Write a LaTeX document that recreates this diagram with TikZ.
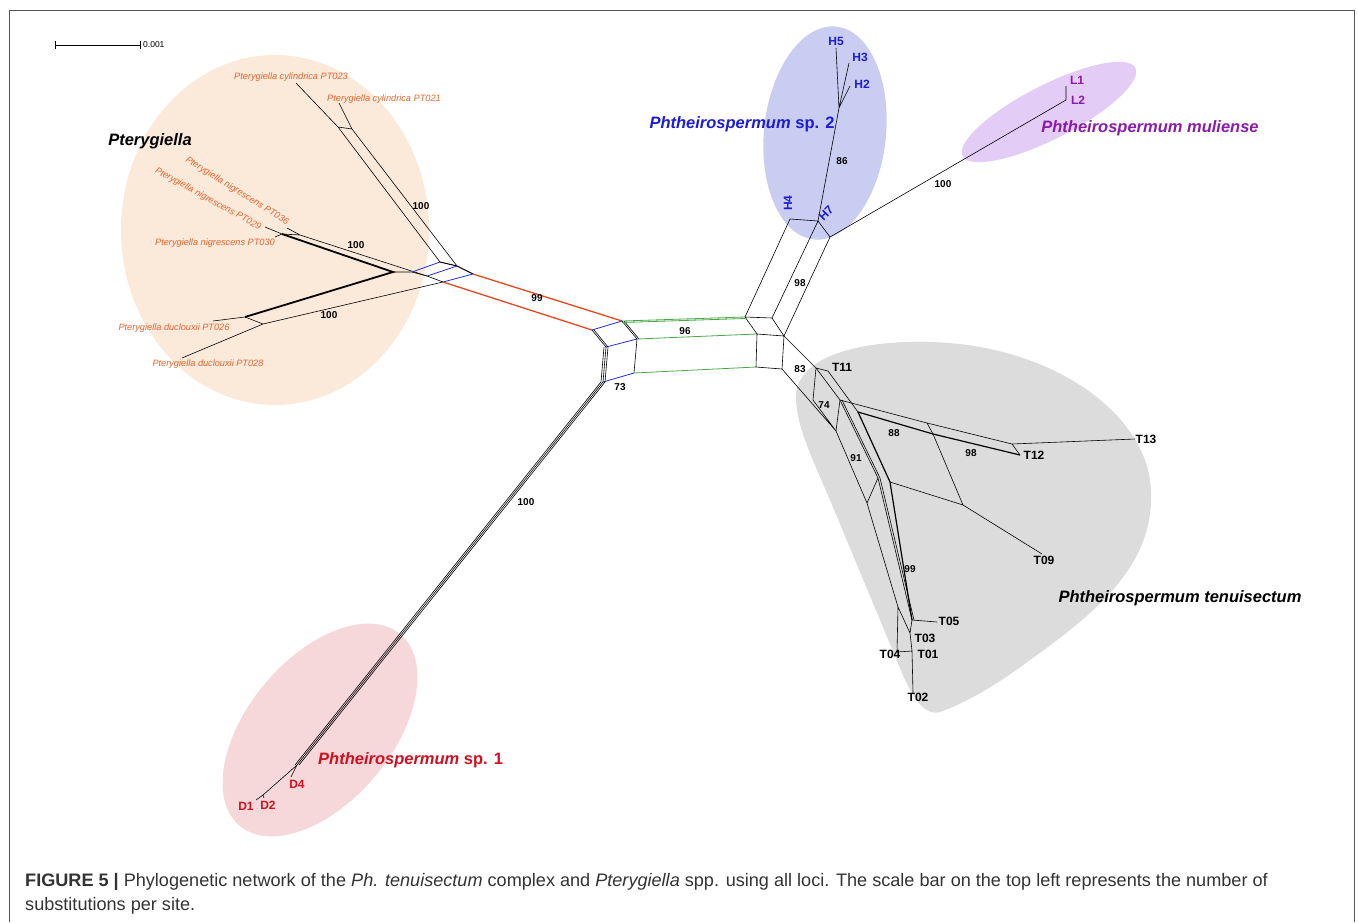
\documentclass[tikz,border=0pt]{standalone}
\usepackage{fontspec}
\setmainfont{Liberation Sans}
\definecolor{framegray}{HTML}{555555}
\definecolor{capgray}{HTML}{333333}
\definecolor{ptorange}{HTML}{E8642C}
\definecolor{peach}{HTML}{FBE9DA}
\definecolor{hblue}{HTML}{1C1CD6}
\definecolor{hfill}{HTML}{C9CDF2}
\definecolor{lpurple}{HTML}{8A1BAA}
\definecolor{lfill}{HTML}{E3CDF6}
\definecolor{dred}{HTML}{D0101E}
\definecolor{dfill}{HTML}{F6D8DA}
\definecolor{tgray}{HTML}{DCDCDC}
\definecolor{redge}{HTML}{E8461C}
\definecolor{bedge}{HTML}{2030E0}
\definecolor{gedge}{HTML}{4DA84A}
\tikzset{
  net/.style={line width=0.6pt},
  heavy/.style={line width=1.8pt},
  supp/.style={font=\bfseries\fontsize{10}{10}\selectfont, inner sep=1pt},
  tip/.style={font=\bfseries\fontsize{12}{12}\selectfont, inner sep=1pt},
  ptx/.style={font=\itshape\fontsize{9.2}{10}\selectfont, text=ptorange, inner sep=1pt},
  clade/.style={font=\bfseries\itshape\fontsize{16.5}{16.5}\selectfont, inner sep=1pt},
}

\begin{document}
\begin{tikzpicture}[x=1pt,y=-1pt]
  \useasboundingbox (0,0) rectangle (1358,922);
  \draw[framegray, line width=1pt] (9,922) -- (9,10) -- (1354,10) -- (1354,922);
  % clade shading
  \fill[peach] (275,230) ellipse [x radius=154pt, y radius=175pt];
  \fill[hfill, rotate around={-6:(825,133)}] (825,133) ellipse [x radius=61pt, y radius=107pt];
  \fill[lfill, rotate around={27:(1049,112)}] (1049,112) ellipse [x radius=97pt, y radius=27pt];
  \fill[dfill, rotate around={50:(320,730)}] (320,730) ellipse [x radius=125pt, y radius=72pt];
  \fill[tgray] (796,395) .. controls (798,360) and (850,340) .. (930,342)
    .. controls (1050,345) and (1140,410) .. (1150,480)
    .. controls (1160,560) and (1100,610) .. (1030,660)
    .. controls (990,690) and (960,705) .. (940,712)
    .. controls (925,716) and (915,700) .. (905,680) -- (830,500)
    .. controls (808,450) and (795,420) .. (796,395) -- cycle;
  % scale bar
  \coordinate (sb1) at (55,45);
  \coordinate (sb2) at (140,45);
  \draw[net] (sb1) -- (sb2) ([yshift=-4pt]sb1) -- ([yshift=4pt]sb1) ([yshift=-4pt]sb2) -- ([yshift=4pt]sb2);
  \node[anchor=west, font=\fontsize{8.5}{8.5}\selectfont, inner sep=1pt] (sbl) at ([xshift=2pt]sb2) {0.001};
  % vertices
  \foreach \n/\p in {p23/{296,83}, p23a/{338,127}, p21/{339,103}, p21a/{352,129},
      p36/{287,228}, p29/{265,227}, p30/{275,237}, pn1/{282,234}, pn2/{300,235}, pj/{393,272},
      p26/{213,321}, p26a/{245,317}, p28/{182,358}, p28a/{263,324},
      hb1/{412,272}, hb2/{440,262}, hb3/{427,276}, hb4/{457,266}, hb5/{443,282}, hb6/{473,274},
      c1/{622,321}, c2/{592,330}, c3/{637,339}, c4/{606,347}, c5/{634,373}, c6/{603,382},
      r1/{745,317}, r2/{772,318}, r3/{757,334}, r4/{784,336}, r5/{756,367}, r6/{782,369},
      h4/{790,219}, h7/{818,221}, hl/{830,237}, hm/{839,108},
      h5/{836,48}, h3/{849,63}, h2/{850,86}, l2/{1066,100}, l1/{1066,86},
      t11a/{816,368}, t11b/{828,371}, ta/{813,400}, tb/{840,400}, tc/{836,431}, td/{858,412},
      ti/{927,423}, tj/{933,434}, tg/{1012,444}, th/{1020,455}, t13/{1135,439},
      tk/{963,505}, t09/{1042,554}, te/{878,478}, tl/{890,482}, tf/{867,503},
      tm/{912,620}, t05/{937,622}, tn/{898,607}, to/{910,633}, t01/{912,651}, t04/{897,652}, t02/{913,693},
      d0/{297,765}, d4/{291,777}, d12/{263,795}, d1/{256,800}, d2/{264,798}}
    \coordinate (\n) at (\p);
  % Pterygiella
  \draw[net] (p23) -- (p23a) -- (hb2) (p21) -- (p21a) -- (hb4) (p23a) -- (p21a);
  \draw[net] (p36) -- (pn2) -- (hb3) (p29) -- (pn1) (p30) -- (pn1) (pn1) -- (pn2);
  \draw[heavy] (pn1) -- (pj) -- (p26a);
  \draw[net] (p26) -- (p26a) -- (p28a) -- (p28) (p28a) -- (hb5);
  \draw[net] (pj) -- (hb1) -- (hb3) -- (hb5);
  \draw[line width=1pt] (hb2) -- (hb4) -- (hb6);
  \draw[bedge, line width=0.8pt] (hb1) -- (hb2) (hb3) -- (hb4) (hb5) -- (hb6);
  \draw[redge, line width=1.3pt] (hb6) -- (c1) (hb5) -- (c2);
  % centre
  \draw[bedge, line width=0.8pt] (c2) -- (c1) (c4) -- (c3) (c6) -- (c5);
  \foreach \s in {0,2}
    \draw[net] ([xshift=\s pt]c1) -- ([xshift=\s pt]c3) ([xshift=\s pt]c2) -- ([xshift=\s pt]c4);
  \foreach \s in {-2,0,2}
    \draw[net] ([xshift=\s pt]c4) -- ([xshift=\s pt]c6) ([xshift=\s pt]c6) -- ([xshift=\s pt]d0);
  \draw[net] (c3) -- (c5);
  \draw[gedge, line width=0.8pt] (c1) -- (r1) ([yshift=-1.5pt]c1) -- ([yshift=-1.5pt]r1) (c3) -- (r3) (c5) -- (r5);
  \draw[net] (r1) -- (r2) -- (r4) -- (r6) -- (r5) -- (r3) -- (r4) (r1) -- (r3);
  \draw[net] (r1) -- (h4) -- (h7) -- (hl) -- (r4) (r2) -- (h7);
  \draw[net] (hl) -- (l2) -- (l1);
  \draw[net] (h7) -- (hm) -- (h5) (hm) -- (h3) (hm) -- (h2);
  % Ph. tenuisectum
  \draw[net] (r4) -- (t11a) -- (t11b) (r6) -- (tc) (t11a) -- (ta) -- (tc);
  \draw[net] (t11a) -- (tb) (t11b) -- (td) (tb) -- (tc);
  \draw[net] (tb) -- (ti) -- (tg) -- (t13) (tg) -- (th);
  \draw[line width=1.2pt] (td) -- (tj) -- (th);
  \draw[net] (ti) -- (tj) -- (tk) -- (t09) (tl) -- (tk);
  \foreach \s in {0,2}
    \draw[net] ([xshift=\s pt]tb) -- ([xshift=\s pt]te) ([xshift=\s pt]te) -- ([xshift=\s pt]tm);
  \draw[line width=1.2pt] (td) -- (tl) -- (tm);
  \draw[net] (te) -- (tf) (tc) -- (tf) -- (tn);
  \draw[net] (tm) -- (t05) (tn) -- (t04) (tn) -- (to) (tm) -- (to) -- (t01) -- (t02) (t04) -- (t01);
  % Phtheirospermum sp. 1
  \draw[net] (d0) -- (d4) (d0) -- (d12) -- (d1) (d12) -- (d2);
  % taxa
  \node[ptx] (n23) at (291,77) {Pterygiella cylindrica PT023};
  \node[ptx] (n21) at (384,99) {Pterygiella cylindrica PT021};
  \node[ptx, rotate=-32] (n36) at (237,191) {Pterygiella nigrescens PT036};
  \node[ptx, rotate=-29] (n29) at (208,199) {Pterygiella nigrescens PT029};
  \node[ptx] (n30) at (215,243) {Pterygiella nigrescens PT030};
  \node[ptx] (n26) at (174,328) {Pterygiella duclouxii PT026};
  \node[ptx] (n28) at (208,364) {Pterygiella duclouxii PT028};
  \foreach \n/\p/\t in {nh5/{836,41}/H5, nh3/{860,57}/H3, nh2/{862,84}/H2}
    \node[tip, text=hblue] (\n) at (\p) {\t};
  \node[tip, text=hblue, rotate=90] (nh4) at (788,203) {H4};
  \node[tip, text=hblue, rotate=45] (nh7) at (826,213) {H7};
  \node[tip, text=lpurple] (nl1) at (1077,80) {L1};
  \node[tip, text=lpurple] (nl2) at (1078,100) {L2};
  \foreach \n/\p/\t in {n11/{842,367}/T11, n13/{1146,439}/T13, n12/{1034,455}/T12, n09/{1044,560}/T09,
      n05/{949,621}/T05, n03/{925,638}/T03, n01/{928,654}/T01, n04/{890,654}/T04, n02/{918,697}/T02}
    \node[tip] (\n) at (\p) {\t};
  \foreach \n/\p/\t in {nd1/{246,806}/D1, nd2/{268,805}/D2, nd4/{297,784}/D4}
    \node[tip, text=dred] (\n) at (\p) {\t};
  % support values
  \foreach \n/\p/\t in {s1/{421,206}/100, s2/{356,245}/100, s3/{329,315}/100, s4/{537,298}/99,
      s5/{685,331}/96, s6/{620,387}/73, s7/{526,502}/100, s8/{800,283}/98, s9/{842,161}/86,
      s10/{943,184}/100, s11/{800,369}/83, s12/{824,405}/74, s13/{894,433}/88, s14/{971,453}/98,
      s15/{856,458}/91, s16/{910,569}/99}
    \node[supp] (\n) at (\p) {\t};
  % clades
  \node[clade] (cpt) at (150,141) {Pterygiella};
  \node[clade, text=hblue] (ch) at (742,124) {Phtheirospermum \textup{sp. 2}};
  \node[clade, text=lpurple] (cl) at (1150,128) {Phtheirospermum muliense};
  \node[clade] (ct) at (1180,598) {Phtheirospermum tenuisectum};
  \node[clade, text=dred, anchor=west] (cd) at (317,760) {Phtheirospermum \textup{sp. 1}};
  % caption
  \node[anchor=west, text=capgray, font=\fontsize{18.1}{18}\selectfont, inner sep=0pt] (cap1) at (25,882)
    {\textbf{FIGURE 5 |} Phylogenetic network of the \textit{Ph. tenuisectum} complex and \textit{Pterygiella} spp. using all loci. The scale bar on the top left represents the number of};
  \node[anchor=west, text=capgray, font=\fontsize{18.1}{18}\selectfont, inner sep=0pt] (cap2) at (25,906)
    {substitutions per site.};
\end{tikzpicture}
\end{document}
